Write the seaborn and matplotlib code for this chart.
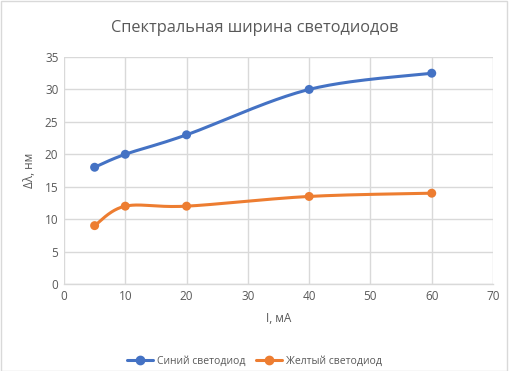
import numpy as np
import pandas as pd
import matplotlib
matplotlib.use("Agg")
import matplotlib.pyplot as plt
import seaborn as sns
from matplotlib.lines import Line2D
from matplotlib.patches import Rectangle

current = [5, 10, 20, 40, 60]
blue_vals = [18, 20, 23, 30, 32.5]
yellow_vals = [9, 12, 12, 13.5, 14]
series_names = ["Синий светодиод", "Желтый светодиод"]
colors = ["#4472C4", "#ED7D31"]
title = "Спектральная ширина светодиодов"
xlabel = "I, мА"
ylabel = "Δλ, нм"


def smooth(xs, ys, n=40):
    P = np.column_stack([xs, ys]).astype(float)
    ext = np.vstack([P[0], P, P[-1]])
    out = []
    for i in range(1, len(ext) - 2):
        p0, p1, p2, p3 = ext[i - 1], ext[i], ext[i + 1], ext[i + 2]
        c1 = p1 + (p2 - p0) / 6
        c2 = p2 - (p3 - p1) / 6
        t = np.linspace(0, 1, n)[:, None]
        seg = ((1 - t) ** 3) * p1 + 3 * ((1 - t) ** 2) * t * c1 + 3 * (1 - t) * t ** 2 * c2 + t ** 3 * p2
        out.append(seg if i == 1 else seg[1:])
    s = np.vstack(out)
    return s[:, 0], s[:, 1]


sns.set_theme(style="white")
plt.rcParams["font.family"] = ["Open Sans", "DejaVu Sans"]
text_color = "#595959"

fig = plt.figure(figsize=(5.09, 3.71), dpi=100)
ax = fig.add_axes([0.1257, 0.2345, 0.9686 - 0.1257, 0.8464 - 0.2345])

frames = []
for name, vals in zip(series_names, [blue_vals, yellow_vals]):
    sx, sy = smooth(current, vals)
    frames.append(pd.DataFrame({"x": sx, "y": sy, "s": name}))
curve = pd.concat(frames, ignore_index=True)
pts = pd.concat([
    pd.DataFrame({"x": current, "y": blue_vals, "s": series_names[0]}),
    pd.DataFrame({"x": current, "y": yellow_vals, "s": series_names[1]}),
], ignore_index=True)

pal = dict(zip(series_names, colors))
sns.lineplot(data=curve, x="x", y="y", hue="s", palette=pal, sort=False,
             linewidth=2.2, ax=ax, legend=False, zorder=3)
sns.scatterplot(data=pts, x="x", y="y", hue="s", palette=pal, s=42,
                edgecolor="none", ax=ax, legend=False, zorder=4)

ax.set_xlim(0, 70)
ax.set_ylim(0, 35)
ax.set_xticks(range(0, 71, 10))
ax.set_yticks(range(0, 36, 5))
ax.grid(True, color="#D9D9D9", linewidth=1)
ax.set_axisbelow(True)
for sp in ["top", "right", "left"]:
    ax.spines[sp].set_visible(False)
ax.spines["bottom"].set_color("#D9D9D9")
ax.spines["bottom"].set_linewidth(1)
ax.tick_params(axis="both", length=0, labelsize=8.5, colors=text_color, pad=4)
ax.set_xlabel(xlabel, fontsize=8.5, color=text_color, labelpad=7)
ax.set_ylabel(ylabel, fontsize=8.5, color=text_color, labelpad=6)
fig.text(0.5, 0.925, title, ha="center", va="center", fontsize=11.8, color=text_color)

handles = [Line2D([0], [0], color=c, lw=2.2, marker="o", markersize=6) for c in colors]
fig.legend(handles, series_names, loc="center", bbox_to_anchor=(0.5, 0.027), ncol=2,
           frameon=False, fontsize=7.5, labelcolor=text_color, handlelength=2.5,
           columnspacing=1.0, handletextpad=0.4)

fig.patches.append(Rectangle((0.001, 0.001), 0.996, 0.996, transform=fig.transFigure,
                             fill=False, edgecolor="#D9D9D9", linewidth=1))
fig.savefig("out.png", dpi=100)
